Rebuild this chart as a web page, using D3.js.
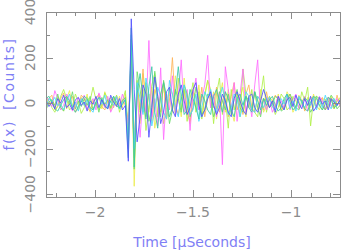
<!DOCTYPE html>
<html><head><meta charset="utf-8">
<script src="https://cdn.jsdelivr.net/npm/d3@7"></script>
<style>body{margin:0;background:#fff}svg{display:block}</style>
</head><body><svg id="c" width="341" height="251"></svg>
<script>
// sampling grid of the traces (µs)
const tStart = -2.25, tStep = 0.015;

const blue = [10,-15,5,-25,20,0,35,-20,-5,-30,15,25,-10,5,-35,10,-5,30,-20,15,-10,-25,35,5,-15,20,-30,-10,
 -255,370,60,
 -170,-60,80,40,-150,-20,115,30,-90,-40,50,70,-30,-60,40,80,10,-50,-20,60,90,-10,-60,-30,20,
 50,-10,-50,-20,40,10,-40,-60,20,50,10,-30,-50,30,40,-20,-40,10,60,20,
 -20,10,-40,30,-5,-30,15,25,-15,35,0,-25,20,-10,30,-35,-15,25,-5,10,-30,20,5,-10,15];
const cyan = [-15,20,5,25,-10,-5,-30,10,40,-20,5,-35,20,-10,15,-25,-40,5,25,-5,35,-20,10,-10,30,-25,5,15,
 -180,300,-200,
 90,20,-50,110,40,-100,-30,70,30,-40,-70,100,40,-20,-60,30,80,20,-50,-30,40,-80,-20,50,20,
 60,-10,-40,20,70,10,-50,-20,40,20,-60,-10,50,30,-30,-40,30,10,-20,15,
 25,-15,-30,10,20,-5,40,-25,10,-35,30,5,-20,15,-10,25,-30,10,-20,35,-5,-25,20,-10,10];
const teal = [20,30,5,-25,-35,-10,15,30,10,-20,-40,-15,5,30,20,-20,-30,5,25,15,-15,-25,10,30,5,-20,-5,15,
 -240,330,-280,
 40,130,20,-70,72,160,-40,-110,40,90,20,-60,-20,40,160,30,-50,-30,60,20,-20,-70,40,10,-30,
 -50,30,60,10,-40,50,20,-30,-60,20,40,-10,30,-20,-40,50,10,-30,20,-10,
 15,30,-10,-35,-20,20,40,5,-30,-15,20,10,-25,-35,5,30,20,-10,-30,-5,25,15,-20,-10,10];
const green = [-30,5,15,-10,40,-20,-35,25,-5,50,-25,10,-15,20,-10,30,-30,5,-40,25,-5,15,-20,30,-10,-25,10,25,
 -200,280,-290,
 138,60,-40,90,-80,-20,140,30,-60,100,20,-90,-30,60,20,-40,80,40,-60,-20,70,10,-50,-30,40,
 30,-60,-20,50,10,-30,40,-50,20,60,-20,-40,30,10,-30,50,-20,-60,20,10,
 -20,-5,30,20,-35,-25,15,40,10,-20,-30,5,25,10,-40,-15,30,20,-10,-30,5,35,15,-25,-10];
const lime = [25,10,-20,-40,-10,30,60,20,-30,-15,40,5,-45,-20,25,10,70,15,-30,-10,45,20,-25,5,35,-40,10,55,
 -120,220,-240,
 100,-40,60,-120,-20,80,130,-60,30,-90,-20,70,40,-50,110,-30,60,-80,20,90,-40,50,-70,30,100,
 60,-90,40,110,-50,20,-110,60,-30,40,-60,150,40,-20,60,-40,-60,30,120,-40,
 30,-10,-50,-20,40,20,-30,-15,30,10,-20,50,10,70,-100,20,30,-10,-30,15,25,-10,-25,10,20];
const yellow = [40,-10,15,-25,30,-5,-35,20,55,-15,0,-30,25,-10,40,-40,15,-15,30,-25,50,5,-35,20,-10,30,-20,40,
 -150,250,-365,
 50,-90,130,40,-40,70,-110,-30,40,90,-70,20,-40,120,30,-60,110,-30,-90,60,-20,80,-50,40,100,
 -20,50,-70,20,90,-40,60,-30,-80,40,20,70,-60,30,-20,50,-30,60,-40,-10,
 30,10,-20,40,-30,-10,50,20,-40,-15,35,10,-30,25,-20,40,-10,-30,20,15,-25,30,-15,10,25];
const orange = [-10,20,35,-30,-15,20,45,-25,10,30,-40,-15,35,20,-20,-35,5,20,40,-15,-30,10,25,-20,35,-5,15,-10,
 -80,200,-160,
 80,-30,150,-60,40,-80,60,20,-40,90,-70,30,200,-10,-50,20,60,-40,-80,50,30,-30,70,-60,20,
 40,-20,70,-40,10,50,-60,30,90,-30,20,-50,40,80,-20,-40,30,10,-30,50,
 -20,10,35,15,-30,-15,20,40,-10,-25,30,15,-35,-5,20,30,-20,10,25,-30,-10,20,-25,35,-15];
const magenta = [30,10,-15,55,20,-30,-10,40,15,-35,-10,25,5,35,-25,-5,20,-30,45,10,-20,30,-40,-10,25,-15,40,-5,
 -100,160,-200,
 60,-150,30,-40,275,-60,20,-100,155,-160,40,-30,120,-50,30,190,-40,60,-120,40,110,-30,20,80,210,
 -20,40,-60,50,-270,160,60,-40,90,-80,40,150,-40,20,-60,80,190,-50,20,-30,
 20,-40,-10,30,10,-20,35,-30,15,40,-25,-10,30,-35,-5,20,-20,30,10,-30,25,-15,-5,20,-15];

const series = [
  {values: yellow,  color: "#ecec50"},
  {values: orange,  color: "#ffb458"},
  {values: lime,    color: "#b0f048"},
  {values: magenta, color: "#ff6cff"},
  {values: green,   color: "#68dc68"},
  {values: cyan,    color: "#48d8ff"},
  {values: teal,    color: "#38c8a4"},
  {values: blue,    color: "#5050ff"}
];

const xMajor = [-2, -1.5, -1];
const xMajorLabels = ["\u22122", "\u22121.5", "\u22121"];
const xMinor = [-2.2,-2.1,-1.9,-1.8,-1.7,-1.6,-1.4,-1.3,-1.2,-1.1,-0.9,-0.8];
const yMajor = [-400, -200, 0, 200, 400];
const yMajorLabels = ["\u2212400", "\u2212200", "0", "200", "400"];
const yMinor = [-300, -100, 100, 300];

const svg = d3.select("#c");
const L = 46, R = 340, T = 12, B = 197;
const x = d3.scaleLinear().domain([-2.25, -0.75]).range([L, R]);
const y = d3.scaleLinear().domain([-412, 400]).range([B, T]);

svg.append("clipPath").attr("id","clip").append("rect")
  .attr("x", L).attr("y", T).attr("width", R-L).attr("height", B-T);

const line = d3.line().x((d,i) => x(tStart + i*tStep)).y(d => y(d));
const g = svg.append("g").attr("clip-path","url(#clip)");
series.forEach(s => {
  g.append("path").attr("d", line(s.values)).attr("fill","none")
   .attr("stroke", s.color).attr("stroke-width", 1).attr("stroke-opacity", 0.85)
   .attr("stroke-linejoin","round");
});

const axisColor = "#8c8c8c";
const ag = svg.append("g").attr("stroke", axisColor).attr("stroke-width", 1).attr("fill","none");
ag.append("rect").attr("x", L+0.5).attr("y", T+0.5).attr("width", R-L).attr("height", B-T);
function xt(v, len){
  const px = Math.round(x(v))+0.5;
  ag.append("line").attr("x1",px).attr("x2",px).attr("y1",B).attr("y2",B-len);
  ag.append("line").attr("x1",px).attr("x2",px).attr("y1",T).attr("y2",T+len);
}
function yt(v, len){
  const py = Math.round(y(v))+0.5;
  ag.append("line").attr("x1",L).attr("x2",L+len).attr("y1",py).attr("y2",py);
  ag.append("line").attr("x1",R).attr("x2",R-len).attr("y1",py).attr("y2",py);
}
xMajor.forEach(v => xt(v, 7)); xMinor.forEach(v => xt(v, 4));
yMajor.forEach(v => yt(v, 7)); yMinor.forEach(v => yt(v, 4));

const font = "DejaVu Sans, Verdana, sans-serif";
svg.append("g").selectAll("text").data(xMajor).join("text")
  .attr("x", d => x(d)).attr("y", 217).attr("text-anchor","middle")
  .attr("font-family", font).attr("font-size", 14).attr("fill", "#8c8c8c")
  .text((d,i) => xMajorLabels[i]);
svg.append("g").selectAll("text").data(yMajor).join("text")
  .attr("transform", d => `translate(35,${y(d)}) rotate(-90)`).attr("text-anchor","middle")
  .attr("font-family", font).attr("font-size", 14).attr("fill", "#8c8c8c")
  .text((d,i) => yMajorLabels[i]);

svg.append("text").attr("x", 192).attr("y", 247).attr("text-anchor","middle")
  .attr("font-family", font).attr("font-size", 14).attr("fill", "#7f7ff5")
  .text("Time [\u03bcSeconds]");
svg.append("text").attr("transform","translate(14,94) rotate(-90)").attr("text-anchor","middle")
  .attr("font-family", font).attr("font-size", 14).attr("letter-spacing", 1.6).attr("word-spacing", 4)
  .attr("fill", "#7f7ff5")
  .text("f(x) [Counts]");
</script></body></html>
